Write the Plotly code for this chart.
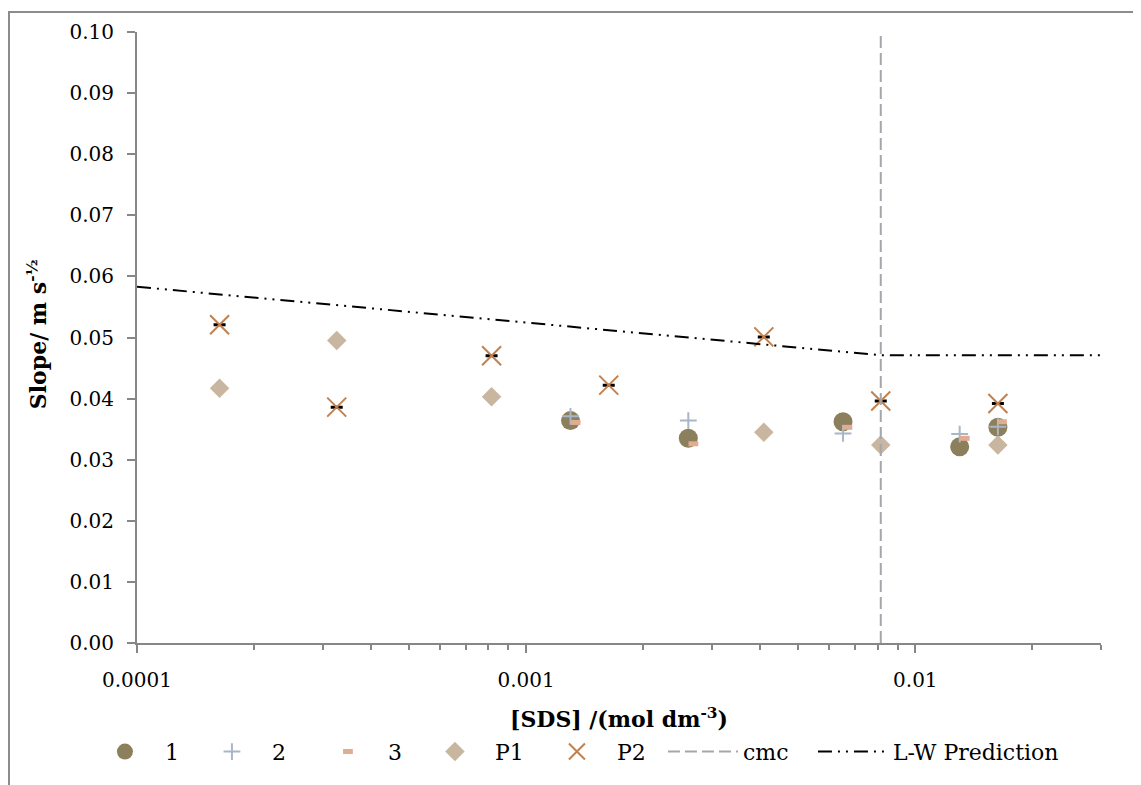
import plotly.graph_objects as go

# ---- data ----
x_s1 = [1.30e-3, 2.61e-3, 6.52e-3, 1.30e-2, 1.63e-2]
y_s1 = [0.0364, 0.0335, 0.0362, 0.0321, 0.0353]

x_s2 = [1.30e-3, 2.61e-3, 6.52e-3, 1.30e-2, 1.63e-2]
y_s2 = [0.0371, 0.0364, 0.0343, 0.0342, 0.0354]

x_s3 = [1.34e-3, 2.69e-3, 6.69e-3, 1.34e-2, 1.67e-2]
y_s3 = [0.0361, 0.0326, 0.0353, 0.0335, 0.0362]

x_p1 = [1.63e-4, 3.26e-4, 8.15e-4, 4.08e-3, 8.15e-3, 1.63e-2]
y_p1 = [0.0417, 0.0495, 0.0403, 0.0345, 0.0324, 0.0324]

x_p2 = [1.63e-4, 3.26e-4, 8.15e-4, 1.63e-3, 4.08e-3, 8.15e-3, 1.63e-2]
y_p2 = [0.0521, 0.0386, 0.0470, 0.0422, 0.0501, 0.0396, 0.0392]
err_p2 = [0, 0, 0, 0, 0, 0, 0]

x_cmc = [8.15e-3, 8.15e-3]
y_cmc = [0.0, 0.1]

x_lw = [1.0e-4, 8.15e-3, 3.0e-2]
y_lw = [0.0583, 0.0471, 0.0471]

x_tickvals = [1e-4, 1e-3, 1e-2]
x_ticktext = ["0.0001", "0.001", "0.01"]

FONT = "DejaVu Serif"
AXIS_GREY = "#878787"

fig = go.Figure()

fig.add_trace(go.Scatter(
    x=x_s1, y=y_s1, name="1", mode="markers", legendwidth=22,
    marker=dict(symbol="circle", size=19, color="#8b7f5c"),
))
fig.add_trace(go.Scatter(
    x=x_s2, y=y_s2, name="2", mode="markers", legendwidth=31,
    marker=dict(symbol="cross-thin", size=12, color="#a8b6c6",
                line=dict(width=2, color="#a8b6c6")),
))
fig.add_trace(go.Scatter(
    x=x_s3, y=y_s3, name="3", mode="markers", legendwidth=22,
    marker=dict(symbol="line-ew", size=7, color="#e0ad93",
                line=dict(width=5, color="#e0ad93")),
))
fig.add_trace(go.Scatter(
    x=x_p1, y=y_p1, name="P1", mode="markers", legendwidth=37,
    marker=dict(symbol="diamond", size=15, color="#c9b6a0"),
))
fig.add_trace(go.Scatter(
    x=x_p2, y=y_p2, name="P2", mode="markers", legendwidth=41,
    marker=dict(symbol="x-thin", size=19, color="#c0804f",
                line=dict(width=2, color="#c0804f")),
    error_y=dict(type="data", array=err_p2, visible=True,
                 color="black", thickness=3, width=6),
))
fig.add_trace(go.Scatter(
    x=x_cmc, y=y_cmc, name="cmc", mode="lines", legendwidth=65,
    line=dict(color="#a3a7ab", width=2, dash="12px,5px"),
))
fig.add_trace(go.Scatter(
    x=x_lw, y=y_lw, name="L-W Prediction", mode="lines", legendwidth=180,
    line=dict(color="black", width=2, dash="14px,6px,2px,6px,2px,6px"),
))

fig.update_layout(
    width=1133, height=777,
    margin=dict(l=129, r=40, t=21, b=142),
    paper_bgcolor="white", plot_bgcolor="white",
    font=dict(family=FONT, color="black", size=18),
    showlegend=True,
    legend=dict(
        orientation="h", x=-0.054, xanchor="left", y=-0.178, yanchor="middle",
        font=dict(family=FONT, size=22, color="black"),
        itemwidth=70, bgcolor="rgba(0,0,0,0)",
        traceorder="normal",
    ),
    xaxis=dict(
        type="log", range=[-4, -1.5229],
        tickmode="array", tickvals=x_tickvals, ticktext=x_ticktext,
        ticks="outside", ticklen=8, tickwidth=2, tickcolor=AXIS_GREY,
        ticklabelstandoff=10,
        minor=dict(ticks="outside", ticklen=5, tickwidth=2, tickcolor=AXIS_GREY,
                   dtick="D1", showgrid=False),
        showline=True, linecolor=AXIS_GREY, linewidth=2,
        showgrid=False, zeroline=False,
        tickfont=dict(family=FONT, size=20, color="black"),
    ),
    yaxis=dict(
        range=[0, 0.1], dtick=0.01, tickformat=".2f",
        ticks="outside", ticklen=8, tickwidth=2, tickcolor=AXIS_GREY,
        ticklabelstandoff=9,
        showline=True, linecolor=AXIS_GREY, linewidth=2,
        showgrid=False, zeroline=False,
        tickfont=dict(family=FONT, size=20, color="black"),
    ),
    annotations=[
        dict(text="<b>[SDS] /(mol dm<sup>-3</sup>)</b>", xref="paper", yref="paper",
             x=0.5, y=-0.122, xanchor="center", yanchor="middle", showarrow=False,
             font=dict(family=FONT, size=22, color="black")),
        dict(text="<b>Slope/ m s<sup>-½</sup></b>", xref="paper", yref="paper",
             x=-0.103, y=0.505, xanchor="center", yanchor="middle", showarrow=False,
             textangle=-90, font=dict(family=FONT, size=22, color="black")),
    ],
    shapes=[
        dict(type="rect", xref="paper", yref="paper",
             x0=-0.1328, x1=1.0394, y0=-0.26, y1=1.0326,
             line=dict(color="#8c8c8c", width=2), layer="below"),
    ],
)

fig.write_html("out.html")
